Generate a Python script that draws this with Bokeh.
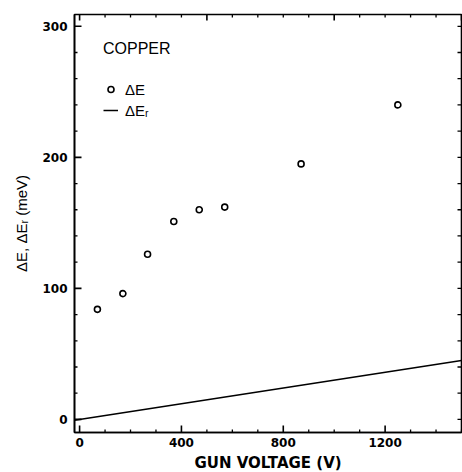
import numpy as np
from bokeh.plotting import figure
from bokeh.models import SingleIntervalTicker, Range1d, Legend, LegendItem
from bokeh.embed import file_html
from bokeh.resources import INLINE

# Data
gun_voltage = [70, 170, 267, 370, 470, 570, 870, 1250]
delta_e = [84, 96, 126, 151, 160, 162, 195, 240]

line_voltage = [-20, 1500]
delta_er = [-0.6, 45.0]

X_START, X_END = -20, 1500
Y_START, Y_END = -10, 309

bottom_major, bottom_minor = 400, 100
top_major, top_minor = 500, 100
left_major, left_minor = 100, 20

FW, FH = 387, 418
FONT = "Liberation Sans"
TICK_FONT = "DejaVu Sans"

p = figure(frame_width=FW, frame_height=FH,
           x_range=Range1d(X_START, X_END), y_range=Range1d(Y_START, Y_END),
           output_backend="svg", toolbar_location=None,
           min_border_left=74, min_border_right=1,
           min_border_top=14, min_border_bottom=30)
p.background_fill_color = "white"
p.border_fill_color = "white"
p.outline_line_color = "black"
p.outline_line_width = 1.6
p.xgrid.visible = False
p.ygrid.visible = False

def style_axis(ax):
    ax.axis_line_color = "black"
    ax.axis_line_width = 1.6
    ax.major_tick_in = 0
    ax.major_tick_out = 0
    ax.minor_tick_in = 0
    ax.minor_tick_out = 0
    ax.major_label_text_font = TICK_FONT
    ax.major_label_text_font_size = "12px"
    ax.major_label_text_font_style = "bold"
    ax.major_label_text_color = "black"
    ax.axis_label_text_color = "black"

xa = p.xaxis[0]
xa.ticker = SingleIntervalTicker(interval=bottom_major, num_minor_ticks=4)
style_axis(xa)
xa.major_label_standoff = 5
xa.axis_label = "GUN VOLTAGE (V)"
xa.axis_label_text_font = TICK_FONT
xa.axis_label_text_font_size = "15px"
xa.axis_label_text_font_style = "bold"
xa.axis_label_standoff = 4

ya = p.yaxis[0]
ya.ticker = SingleIntervalTicker(interval=left_major, num_minor_ticks=5)
style_axis(ya)
ya.major_label_standoff = 7
ya.axis_label = "ΔE, ΔEᵣ (meV)"
ya.axis_label_text_font = FONT
ya.axis_label_text_font_size = "15px"
ya.axis_label_text_font_style = "normal"
ya.axis_label_standoff = 9

# Inward tick marks, generated from the tick intervals
def ticks(start, end, step):
    first = np.ceil(start / step) * step
    return [float(t) for t in np.arange(first, end + 1e-9, step)]

def split(start, end, major, minor):
    allt = ticks(start, end, minor)
    is_major = lambda t: abs(t / major - round(t / major)) < 1e-9
    return [t for t in allt if is_major(t)], [t for t in allt if not is_major(t)]

bx_maj, bx_min = split(X_START, X_END, bottom_major, bottom_minor)
tx_maj, tx_min = split(X_START, X_END, top_major, top_minor)
ly_maj, ly_min = split(Y_START, Y_END, left_major, left_minor)
ry_all = ticks(Y_START, Y_END, left_minor)

dx = (X_END - X_START) / FW   # data units per pixel
dy = (Y_END - Y_START) / FH

def vticks(xs, y0, npx, sign, lw):
    p.segment(x0=xs, y0=[y0] * len(xs), x1=xs, y1=[y0 + sign * npx * dy] * len(xs),
              line_color="black", line_width=lw)

def hticks(ys, x0, npx, sign, lw):
    p.segment(x0=[x0] * len(ys), y0=ys, x1=[x0 + sign * npx * dx] * len(ys), y1=ys,
              line_color="black", line_width=lw)

vticks(bx_maj, Y_START, 7, 1, 1.6)
vticks(bx_min, Y_START, 3, 1, 1.3)
vticks(tx_maj, Y_END, 6, -1, 1.6)
vticks(tx_min, Y_END, 3, -1, 1.3)
hticks(ly_maj, X_START, 7, 1, 1.6)
hticks(ly_min, X_START, 3, 1, 1.3)
hticks(ry_all, X_END, 4, -1, 1.3)

sc = p.scatter(gun_voltage, delta_e, marker="circle", size=6,
               fill_color=None, line_color="black", line_width=1.6)
ln = p.line(line_voltage, delta_er, line_color="black", line_width=1.5)

legend = Legend(items=[LegendItem(label="ΔE", renderers=[sc]),
                       LegendItem(label="ΔEᵣ", renderers=[ln])],
                location=(29, 313), title="COPPER")
legend.title_text_font = FONT
legend.title_text_font_size = "16px"
legend.title_text_font_style = "normal"
legend.title_text_color = "black"
legend.title_standoff = 22
legend.label_text_font = FONT
legend.label_text_font_size = "15px"
legend.label_text_color = "black"
legend.glyph_width = 15
legend.glyph_height = 18
legend.label_standoff = 7
legend.spacing = 3
legend.padding = 0
legend.margin = 0
legend.border_line_color = None
legend.background_fill_alpha = 0
p.add_layout(legend)

open("out.html", "w").write(file_html(p, INLINE))
